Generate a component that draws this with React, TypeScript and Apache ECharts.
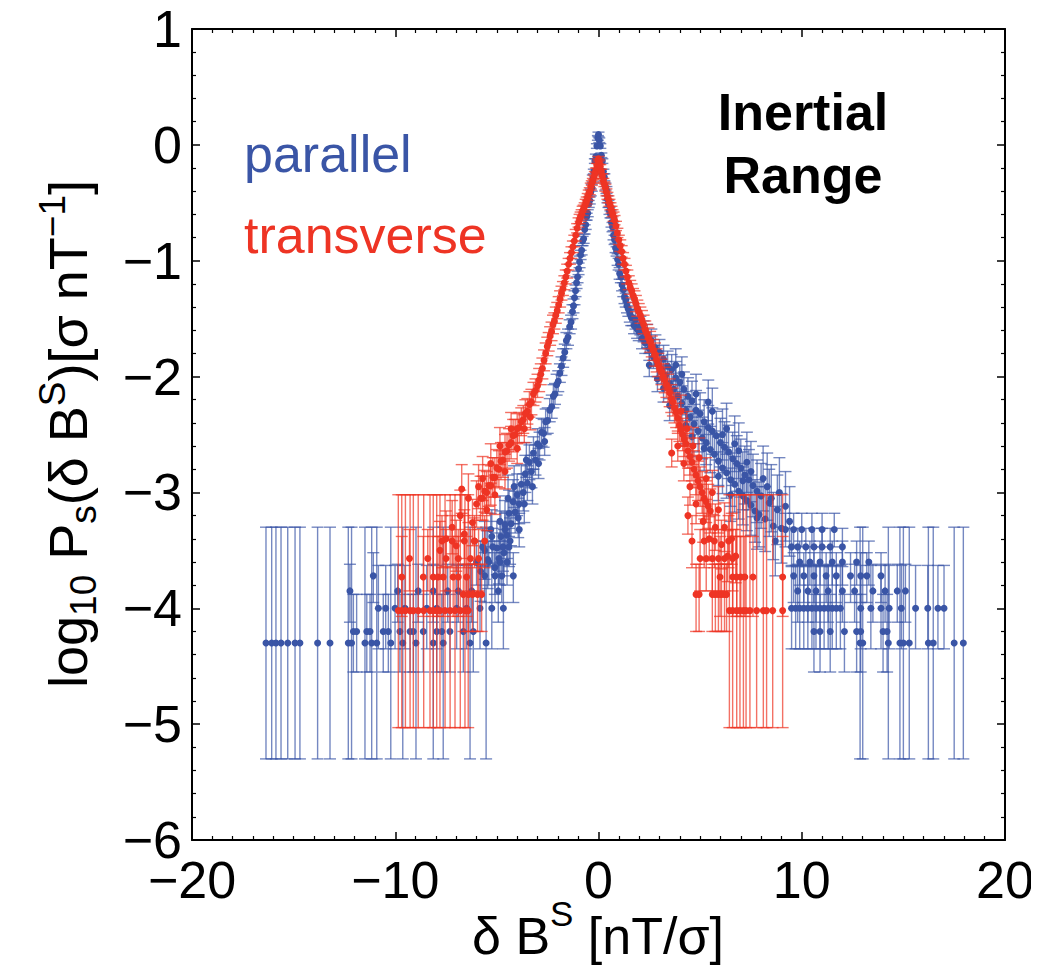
import React, { useEffect, useRef } from 'react';
import * as echarts from 'echarts';

const BLUE = '#3a55a6';
const RED = '#ee3424';
const FONT = '"Liberation Sans", Arial, Helvetica, sans-serif';

// axis ranges / ticks
const xRange = [-20, 20];
const yRange = [-6, 1];

// core points: [x, log10 P, half error]
const parallelLeft = [
  [-0.03, 0.06, 0.02], [-0.08, -0.01, 0.02], [-0.13, -0.1, 0.02], [-0.18, -0.14, 0.02], [-0.23, -0.23, 0.02],
  [-0.28, -0.29, 0.03], [-0.33, -0.37, 0.03], [-0.38, -0.41, 0.03], [-0.43, -0.48, 0.03], [-0.48, -0.51, 0.03],
  [-0.53, -0.59, 0.03], [-0.58, -0.62, 0.03], [-0.63, -0.69, 0.04], [-0.68, -0.73, 0.04], [-0.73, -0.81, 0.04],
  [-0.78, -0.83, 0.04], [-0.83, -0.91, 0.04], [-0.88, -0.95, 0.04], [-0.93, -1.01, 0.05], [-0.98, -1.07, 0.05],
  [-1.03, -1.14, 0.05], [-1.08, -1.19, 0.05], [-1.13, -1.26, 0.05], [-1.18, -1.32, 0.06], [-1.23, -1.39, 0.06],
  [-1.28, -1.44, 0.06], [-1.35, -1.53, 0.06], [-1.42, -1.57, 0.06], [-1.5, -1.66, 0.07], [-1.58, -1.69, 0.07],
  [-1.66, -1.79, 0.07], [-1.74, -1.84, 0.08], [-1.82, -1.91, 0.08], [-1.9, -1.97, 0.08], [-1.98, -2.04, 0.09],
  [-2.06, -2.07, 0.09], [-2.14, -2.15, 0.09], [-2.22, -2.17, 0.1], [-2.3, -2.26, 0.1], [-2.4, -2.29, 0.1],
  [-2.5, -2.38, 0.11], [-2.6, -2.39, 0.11], [-2.7, -2.49, 0.12], [-2.8, -2.48, 0.12], [-2.9, -2.6, 0.12],
  [-3.0, -2.58, 0.13], [-3.1, -2.72, 0.13], [-3.2, -2.66, 0.14], [-3.3, -2.82, 0.14], [-3.4, -2.74, 0.15],
  [-3.5, -2.92, 0.15], [-3.6, -2.84, 0.16], [-3.7, -3.0, 0.16], [-3.8, -2.93, 0.17], [-3.9, -3.1, 0.17],
  [-4.0, -3.02, 0.18], [-4.1, -3.17, 0.18], [-4.2, -3.08, 0.19], [-4.3, -3.27, 0.19], [-4.4, -3.18, 0.2],
  [-4.5, -3.37, 0.2], [-4.6, -3.28, 0.21], [-4.7, -3.47, 0.21], [-4.8, -3.38, 0.22], [-4.9, -3.57, 0.22],
  [-5.0, -3.48, 0.23],
];
const parallelRight = [
  [0.0, 0.09, 0.02], [0.04, 0.04, 0.02], [0.09, -0.01, 0.02], [0.14, -0.09, 0.02], [0.19, -0.14, 0.02],
  [0.24, -0.23, 0.02], [0.29, -0.28, 0.03], [0.34, -0.36, 0.03], [0.39, -0.39, 0.03], [0.44, -0.47, 0.03],
  [0.49, -0.51, 0.03], [0.54, -0.57, 0.03], [0.59, -0.6, 0.03], [0.64, -0.67, 0.04], [0.69, -0.71, 0.04],
  [0.74, -0.78, 0.04], [0.79, -0.82, 0.04], [0.84, -0.89, 0.04], [0.89, -0.92, 0.04], [0.94, -0.99, 0.05],
  [0.99, -1.03, 0.05], [1.04, -1.11, 0.05], [1.1, -1.14, 0.05], [1.16, -1.21, 0.05], [1.22, -1.25, 0.06],
  [1.28, -1.31, 0.06], [1.34, -1.34, 0.06], [1.4, -1.39, 0.06], [1.47, -1.42, 0.06], [1.54, -1.46, 0.07],
  [1.61, -1.49, 0.07], [1.68, -1.49, 0.07], [1.75, -1.56, 0.07], [1.82, -1.51, 0.08], [1.9, -1.59, 0.08],
  [1.98, -1.61, 0.08], [2.06, -1.56, 0.08], [2.14, -1.67, 0.09], [2.22, -1.61, 0.09], [2.3, -1.71, 0.09],
  [2.4, -1.65, 0.1], [2.5, -1.76, 0.1], [2.6, -1.69, 0.1], [2.7, -1.83, 0.1], [2.8, -1.75, 0.11],
  [2.9, -1.89, 0.11], [3.0, -1.79, 0.11], [3.1, -1.94, 0.12], [3.2, -1.85, 0.12], [3.3, -1.99, 0.12],
  [3.4, -1.91, 0.13], [3.5, -2.06, 0.13], [3.6, -1.94, 0.13], [3.7, -2.11, 0.14], [3.8, -2.01, 0.14],
  [3.9, -2.17, 0.14], [4.0, -2.05, 0.15], [4.1, -2.23, 0.15], [4.2, -2.11, 0.15], [4.3, -2.29, 0.16],
  [4.4, -2.17, 0.16], [4.5, -2.35, 0.16], [4.6, -2.21, 0.17], [4.7, -2.41, 0.17], [4.8, -2.29, 0.17],
  [4.9, -2.47, 0.18], [5.0, -2.32, 0.18], [5.1, -2.53, 0.18], [5.2, -2.39, 0.19], [5.3, -2.57, 0.19],
  [5.4, -2.44, 0.19], [5.5, -2.63, 0.2], [5.6, -2.47, 0.2], [5.7, -2.67, 0.2], [5.8, -2.51, 0.21],
  [5.9, -2.73, 0.21], [6.0, -2.57, 0.21], [6.1, -2.79, 0.22], [6.2, -2.61, 0.22], [6.3, -2.83, 0.22],
  [6.4, -2.65, 0.23], [6.5, -2.89, 0.23], [6.6, -2.71, 0.23], [6.7, -2.93, 0.24], [6.8, -2.75, 0.24],
  [6.9, -2.99, 0.24], [7.0, -2.79, 0.25], [7.1, -3.03, 0.25], [7.2, -2.85, 0.25], [7.3, -3.07, 0.26],
  [7.4, -2.89, 0.26], [7.5, -3.11, 0.26], [7.6, -2.94, 0.27], [7.7, -3.16, 0.27], [7.8, -2.99, 0.27],
  [7.9, -3.19, 0.28], [8.0, -3.03, 0.28], [8.2, -3.23, 0.28], [8.4, -3.09, 0.29], [8.6, -3.29, 0.29],
  [8.8, -3.15, 0.3], [9.0, -3.31, 0.3],
];
const parallelScatter = [
  [-3.25, -2.95, 0.15], [-3.55, -2.72, 0.15], [-3.95, -3.22, 0.17], [-4.15, -2.95, 0.18], [-4.45, -3.05, 0.2],
  [-4.65, -3.52, 0.2], [-4.85, -3.25, 0.22], [-5.1, -3.65, 0.23], [-5.25, -3.38, 0.23], [-5.45, -3.58, 0.25],
  [-5.6, -3.5, 0.25], [-5.8, -3.68, 0.26], [-3.65, -3.1, 0.16], [-2.95, -2.75, 0.13], [-2.65, -2.56, 0.12],
  [-4.35, -3.42, 0.2], [2.5, -1.9, 0.1], [3.2, -2.1, 0.12], [3.8, -1.9, 0.14], [4.3, -2.42, 0.16],
  [4.8, -2.15, 0.17], [5.2, -2.62, 0.19], [5.6, -2.3, 0.2], [6.1, -2.5, 0.22], [6.5, -3.02, 0.23],
  [6.9, -2.64, 0.24], [7.3, -2.74, 0.26], [7.8, -3.22, 0.27], [8.3, -2.95, 0.29], [8.7, -3.42, 0.3],
  [9.2, -3.12, 0.3], [5.9, -2.86, 0.21], [4.6, -2.52, 0.17], [7.1, -2.9, 0.25], [8.1, -2.88, 0.28],
  [6.3, -2.45, 0.22], [8.9, -3.0, 0.3], [9.4, -3.25, 0.3], [2.9, -2.02, 0.11], [3.5, -2.25, 0.13],
  [4.1, -1.98, 0.15], [5.4, -2.22, 0.19], [6.7, -2.58, 0.24], [7.5, -2.82, 0.26], [8.5, -3.05, 0.29],
];
// tail levels: [log10 P, lower, upper]
const parallelTailLevels = [
  [-4.30, -5.30, -3.30],
  [-4.20, -4.55, -3.88],
  [-4.00, -4.35, -3.63],
  [-3.85, -4.12, -3.62],
  [-3.72, -3.95, -3.52],
  [-3.60, -3.80, -3.42],
  [-3.47, -3.64, -3.31],
  [-3.32, -3.47, -3.18],
];
const parallelTailX = [
  [-16.36, -16.08, -15.87, -15.62, -15.29, -14.93, -14.69, -13.82, -13.21, -12.31, -12.15, -11.49, -11.16, -10.91,
    -10.22, -9.63, -8.98, -8.13, -7.64, -6.32, -5.53, 12.87, 13.0, 14.26, 14.83, 15.0, 15.29, 16.23, 16.47, 17.5, 17.95],
  [-12.06, -11.9, -11.4, -11.24, -10.59, -10.34, -9.77, -9.27, -9.11, -8.62, -7.96, -7.71, -7.31, -6.65, -6.16,
    10.6, 10.9, 11.4, 12.1, 12.7, 12.9, 14.0, 14.2],
  [-10.83, -10.47, -10.01, -9.52, -8.45, -7.96, -6.98, -6.49, -5.83, -5.25, -4.68,
    9.5, 9.7, 9.9, 10.1, 10.3, 10.5, 10.7, 10.9, 11.1, 11.3, 11.5, 11.7, 11.9, 12.9, 13.4, 13.9, 14.3, 14.9, 15.6, 16.2, 16.7, 17.0],
  [-12.23, -9.88, -8.87, -8.13, -7.42, -6.9, -6.24, -4.93, 9.8, 10.3, 10.7, 11.3, 12.0, 12.6, 13.5, 14.1, 14.7, 15.1],
  [-11.08, -5.09, -4.76, -4.19, -5.6, 9.6, 10.1, 10.6, 11.2, 11.7, 12.4, 12.9, 13.2, 13.9],
  [-5.4, -4.85, -4.5, -6.0, 9.9, 10.4, 10.9, 11.5, 12.0, 12.7, 13.3],
  [-4.4, -5.2, -5.7, 9.5, 9.8, 10.2, 10.6, 11.0, 11.4, 12.0],
  [-3.9, -4.6, -5.3, 9.2, 9.6, 10.0, 10.5, 11.0, 11.6],
];

const transverseLeft = [
  [-0.03, -0.14, 0.02], [-0.08, -0.18, 0.02], [-0.13, -0.22, 0.02], [-0.18, -0.25, 0.02], [-0.23, -0.28, 0.02],
  [-0.28, -0.31, 0.02], [-0.33, -0.33, 0.02], [-0.38, -0.36, 0.03], [-0.43, -0.4, 0.03], [-0.48, -0.42, 0.03],
  [-0.53, -0.45, 0.03], [-0.58, -0.48, 0.03], [-0.63, -0.5, 0.03], [-0.68, -0.53, 0.03], [-0.73, -0.55, 0.03],
  [-0.78, -0.57, 0.04], [-0.83, -0.6, 0.04], [-0.88, -0.62, 0.04], [-0.93, -0.64, 0.04], [-0.98, -0.67, 0.04],
  [-1.05, -0.72, 0.04], [-1.12, -0.78, 0.05], [-1.19, -0.83, 0.05], [-1.26, -0.88, 0.05], [-1.33, -0.93, 0.05],
  [-1.4, -0.98, 0.05], [-1.47, -1.03, 0.05], [-1.54, -1.09, 0.06], [-1.61, -1.14, 0.06], [-1.68, -1.19, 0.06],
  [-1.75, -1.24, 0.06], [-1.82, -1.28, 0.06], [-1.89, -1.33, 0.07], [-1.96, -1.38, 0.07], [-2.03, -1.43, 0.07],
  [-2.1, -1.47, 0.07], [-2.17, -1.52, 0.07], [-2.24, -1.55, 0.08], [-2.31, -1.61, 0.08], [-2.38, -1.65, 0.08],
  [-2.45, -1.7, 0.08], [-2.52, -1.74, 0.08], [-2.6, -1.8, 0.09], [-2.68, -1.86, 0.09], [-2.76, -1.93, 0.09],
  [-2.84, -1.98, 0.09], [-2.92, -2.03, 0.1], [-3.0, -2.08, 0.1], [-3.1, -2.12, 0.1], [-3.2, -2.15, 0.1],
  [-3.3, -2.22, 0.11], [-3.4, -2.24, 0.11], [-3.5, -2.3, 0.11], [-3.6, -2.32, 0.12], [-3.7, -2.37, 0.12],
  [-3.8, -2.39, 0.12], [-3.9, -2.44, 0.13], [-4.0, -2.45, 0.13], [-4.1, -2.5, 0.13], [-4.2, -2.51, 0.14],
  [-4.3, -2.57, 0.14], [-4.4, -2.59, 0.14], [-4.5, -2.64, 0.15], [-4.6, -2.65, 0.15], [-4.7, -2.72, 0.15],
  [-4.8, -2.73, 0.16], [-4.9, -2.8, 0.16], [-5.0, -2.79, 0.16], [-5.1, -2.87, 0.17], [-5.2, -2.87, 0.17],
  [-5.3, -2.94, 0.17], [-5.4, -2.94, 0.18], [-5.5, -3.0, 0.18], [-5.6, -2.99, 0.18], [-5.7, -3.05, 0.19],
  [-5.8, -3.05, 0.19],
];
const transverseRight = [
  [0.0, -0.12, 0.02], [0.04, -0.15, 0.02], [0.09, -0.19, 0.02], [0.14, -0.23, 0.02], [0.19, -0.27, 0.02],
  [0.24, -0.31, 0.02], [0.29, -0.34, 0.02], [0.34, -0.37, 0.03], [0.39, -0.41, 0.03], [0.44, -0.44, 0.03],
  [0.49, -0.47, 0.03], [0.54, -0.5, 0.03], [0.59, -0.53, 0.03], [0.64, -0.56, 0.03], [0.69, -0.59, 0.03],
  [0.74, -0.62, 0.04], [0.79, -0.65, 0.04], [0.86, -0.7, 0.04], [0.93, -0.76, 0.04], [1.0, -0.82, 0.04],
  [1.07, -0.87, 0.05], [1.14, -0.92, 0.05], [1.21, -0.98, 0.05], [1.28, -1.03, 0.05], [1.35, -1.09, 0.05],
  [1.42, -1.14, 0.06], [1.49, -1.19, 0.06], [1.56, -1.23, 0.06], [1.63, -1.26, 0.06], [1.7, -1.3, 0.06],
  [1.77, -1.33, 0.07], [1.84, -1.37, 0.07], [1.91, -1.41, 0.07], [1.98, -1.44, 0.07], [2.06, -1.47, 0.07],
  [2.14, -1.51, 0.08], [2.22, -1.55, 0.08], [2.3, -1.6, 0.08], [2.38, -1.63, 0.08], [2.46, -1.67, 0.09],
  [2.54, -1.7, 0.09], [2.62, -1.74, 0.09], [2.7, -1.77, 0.09], [2.78, -1.81, 0.1], [2.86, -1.86, 0.1],
  [2.94, -1.9, 0.1], [3.02, -1.93, 0.1], [3.1, -1.96, 0.11], [3.18, -2.0, 0.11], [3.26, -2.03, 0.11],
  [3.34, -2.07, 0.11], [3.42, -2.1, 0.12], [3.5, -2.14, 0.12], [3.58, -2.19, 0.12], [3.66, -2.22, 0.12],
  [3.74, -2.27, 0.13], [3.82, -2.31, 0.13], [3.9, -2.36, 0.13], [3.98, -2.42, 0.14], [4.06, -2.46, 0.14],
  [4.14, -2.5, 0.14], [4.22, -2.54, 0.15], [4.3, -2.58, 0.15], [4.4, -2.64, 0.15], [4.5, -2.69, 0.16],
  [4.6, -2.74, 0.16], [4.7, -2.8, 0.16], [4.8, -2.85, 0.17], [4.9, -2.9, 0.17], [5.0, -2.95, 0.17],
  [5.1, -3.0, 0.18], [5.2, -3.05, 0.18], [5.3, -3.08, 0.18], [5.4, -3.12, 0.19], [5.5, -3.16, 0.19],
];
const transverseScatter = [
  [-4.0, -2.62, 0.13], [-4.3, -2.45, 0.14], [-4.6, -2.82, 0.15], [-4.85, -2.6, 0.16], [-5.1, -3.02, 0.17],
  [-5.3, -2.75, 0.17], [-5.5, -3.15, 0.18], [-5.7, -2.88, 0.19], [-6.0, -3.1, 0.2], [-6.2, -3.26, 0.2],
  [-6.4, -3.05, 0.21], [-6.6, -3.36, 0.21], [-6.8, -3.2, 0.22], [-7.0, -3.46, 0.22], [-7.2, -3.3, 0.23],
  [-7.5, -3.4, 0.24], [-7.8, -3.5, 0.25], [-6.1, -3.42, 0.2], [-5.9, -2.95, 0.19], [-3.65, -2.45, 0.12],
  [-3.35, -2.35, 0.11], [-6.73, -2.97, 0.21], [3.6, -2.66, 0.12], [3.9, -2.6, 0.13], [4.05, -2.3, 0.14],
  [4.2, -2.75, 0.15], [4.35, -2.45, 0.15], [4.5, -2.95, 0.16], [4.65, -2.6, 0.16], [4.8, -3.1, 0.17],
  [4.95, -2.7, 0.17], [5.15, -3.25, 0.18], [5.3, -2.88, 0.18], [5.45, -3.4, 0.19], [5.6, -3.0, 0.19],
  [5.75, -3.3, 0.2], [5.9, -3.15, 0.2], [6.05, -3.45, 0.21], [6.2, -3.3, 0.21], [6.35, -3.55, 0.22],
  [6.55, -3.4, 0.22], [6.75, -3.55, 0.23], [4.4, -3.2, 0.16],
];
const transverseTailLevels = [
  [-4.02, -5.03, -3.02],
  [-3.88, -4.2, -3.62],
  [-3.73, -4.07, -3.38],
  [-3.57, -3.85, -3.32],
  [-3.42, -3.65, -3.2],
];
const transverseTailX = [
  [-9.85, -9.68, -9.27, -9.11, -8.87, -8.29, -8.13, -7.96, -7.8, -7.55, -7.06, -6.57, -6.41, -9.5, -8.6, -7.3, -6.8,
    6.44, 6.6, 6.8, 6.96, 7.13, 7.26, 7.45, 7.78, 8.11, 8.27, 8.57, 9.06],
  [-6.65, -6.4, -6.2, -5.95, -5.75, 4.8, 4.95, 5.6, 5.75, 5.9, 6.05, 6.2, 6.3],
  [-9.68, -8.62, -8.13, -7.64, -7.15, -6.49, -7.9, -6.9, 5.98, 6.6, 6.8, 7.0, 7.2, 7.6, 9.06],
  [-9.3, -8.4, -7.5, -6.9, -6.3, -5.9, 5.0, 5.3, 5.6, 5.9, 6.2, 6.6],
  [-7.7, -7.2, -6.6, -6.1, -5.6, 4.6, 5.2, 5.7, 6.4],
];

function buildPoints(cores: number[][][], levels: number[][], levelX: number[][]) {
  const out: number[][] = [];
  cores.forEach((arr) => arr.forEach(([x, y, e]) => out.push([x, y, y - e, y + e])));
  levels.forEach(([y, lo, hi], i) => levelX[i].forEach((x) => out.push([x, y, lo, hi])));
  return out;
}

const parallelPoints = buildPoints([parallelLeft, parallelRight, parallelScatter], parallelTailLevels, parallelTailX);
const transversePoints = buildPoints([transverseLeft, transverseRight, transverseScatter], transverseTailLevels, transverseTailX);

function errorBarSeries(data: number[][], color: string, z: number) {
  return {
    type: 'custom',
    data,
    encode: { x: 0, y: 1 },
    silent: true,
    renderItem: (params: any, api: any) => {
      const x = api.value(0);
      const lo = api.coord([x, api.value(2)]);
      const hi = api.coord([x, api.value(3)]);
      const hw = 6;
      const style = { stroke: color, lineWidth: 1.4, opacity: 0.7 };
      return {
        type: 'group',
        children: [
          { type: 'line', shape: { x1: lo[0], y1: lo[1], x2: hi[0], y2: hi[1] }, style },
          { type: 'line', shape: { x1: lo[0] - hw, y1: lo[1], x2: lo[0] + hw, y2: lo[1] }, style },
          { type: 'line', shape: { x1: hi[0] - hw, y1: hi[1], x2: hi[0] + hw, y2: hi[1] }, style },
        ],
      };
    },
    z,
  };
}

const fmt = (v: number) => (v < 0 ? '\u2212' + Math.abs(v) : String(v));

export default function App() {
  const ref = useRef<HTMLDivElement>(null);
  useEffect(() => {
    if (!ref.current) return;
    const chart = echarts.init(ref.current, null, { renderer: 'svg' });
    const axisCommon = {
      axisLine: { show: true, onZero: false, lineStyle: { color: '#000', width: 2 } },
      axisTick: { show: true, inside: true, length: 8, lineStyle: { color: '#000', width: 1.5 } },
      minorTick: { show: true, length: 4, lineStyle: { color: '#000', width: 1.2 } },
      splitLine: { show: false },
    };
    const labelStyle = { fontFamily: FONT, fontSize: 52, color: '#000' };
    chart.setOption({
      animation: false,
      backgroundColor: '#fff',
      grid: { left: 192, top: 29, width: 813, height: 811, containLabel: false },
      xAxis: [
        {
          type: 'value', min: xRange[0], max: xRange[1], interval: 10, position: 'bottom',
          ...axisCommon,
          minorTick: { ...axisCommon.minorTick, splitNumber: 10 },
          axisLabel: { ...labelStyle, margin: 14, formatter: fmt },
        },
        {
          type: 'value', min: xRange[0], max: xRange[1], interval: 10, position: 'top',
          ...axisCommon,
          minorTick: { ...axisCommon.minorTick, splitNumber: 10 },
          axisLabel: { show: false },
        },
      ],
      yAxis: [
        {
          type: 'value', min: yRange[0], max: yRange[1], interval: 1, position: 'left',
          ...axisCommon,
          minorTick: { ...axisCommon.minorTick, splitNumber: 5 },
          axisLabel: { ...labelStyle, margin: 10, formatter: fmt },
        },
        {
          type: 'value', min: yRange[0], max: yRange[1], interval: 1, position: 'right',
          ...axisCommon,
          minorTick: { ...axisCommon.minorTick, splitNumber: 5 },
          axisLabel: { show: false },
        },
      ],
      series: [
        errorBarSeries(parallelPoints, BLUE, 2),
        {
          type: 'scatter', data: parallelPoints.map((p) => [p[0], p[1]]), symbolSize: 7,
          itemStyle: { color: BLUE, opacity: 1 }, z: 3, silent: true,
        },
        errorBarSeries(transversePoints, RED, 4),
        {
          type: 'scatter', data: transversePoints.map((p) => [p[0], p[1]]), symbolSize: 7,
          itemStyle: { color: RED, opacity: 1 }, z: 5, silent: true,
        },
      ],
      graphic: [
        { type: 'text', x: 244, y: 154, z: 10, style: { text: 'parallel', fill: BLUE, font: `52px ${FONT}`, verticalAlign: 'middle' } },
        { type: 'text', x: 244, y: 235, z: 10, style: { text: 'transverse', fill: RED, font: `52px ${FONT}`, verticalAlign: 'middle' } },
        { type: 'text', x: 803, y: 112, z: 10, style: { text: 'Inertial', fill: '#000', font: `bold 52px ${FONT}`, align: 'center', verticalAlign: 'middle' } },
        { type: 'text', x: 803, y: 175, z: 10, style: { text: 'Range', fill: '#000', font: `bold 52px ${FONT}`, align: 'center', verticalAlign: 'middle' } },
        {
          type: 'text', x: 598, y: 929, z: 10,
          style: {
            text: '{n|\u03b4 B}{sup|S}{n| [nT/\u03c3]}',
            align: 'center', verticalAlign: 'middle', fill: '#000',
            rich: {
              n: { fontFamily: FONT, fontSize: 52, lineHeight: 66, verticalAlign: 'bottom', fill: '#000' },
              sup: { fontFamily: FONT, fontSize: 35, lineHeight: 40, verticalAlign: 'top', fill: '#000' },
            },
          },
        },
        {
          type: 'text', x: 68, y: 434, rotation: Math.PI / 2, z: 10,
          style: {
            text: '{n|log}{sub|10}{n| P}{sub|s}{n|(\u03b4 B}{sup|S}{n|)[\u03c3 nT}{sup|\u22121}{n|]}',
            align: 'center', verticalAlign: 'middle', fill: '#000',
            rich: {
              n: { fontFamily: FONT, fontSize: 54, lineHeight: 68, verticalAlign: 'middle', fill: '#000' },
              sub: { fontFamily: FONT, fontSize: 37, lineHeight: 37, verticalAlign: 'bottom', fill: '#000' },
              sup: { fontFamily: FONT, fontSize: 37, lineHeight: 37, verticalAlign: 'top', fill: '#000' },
            },
          },
        },
      ],
    });
    return () => chart.dispose();
  }, []);
  return <div ref={ref} style={{ width: 1039, height: 976, margin: -8 }} />;
}
